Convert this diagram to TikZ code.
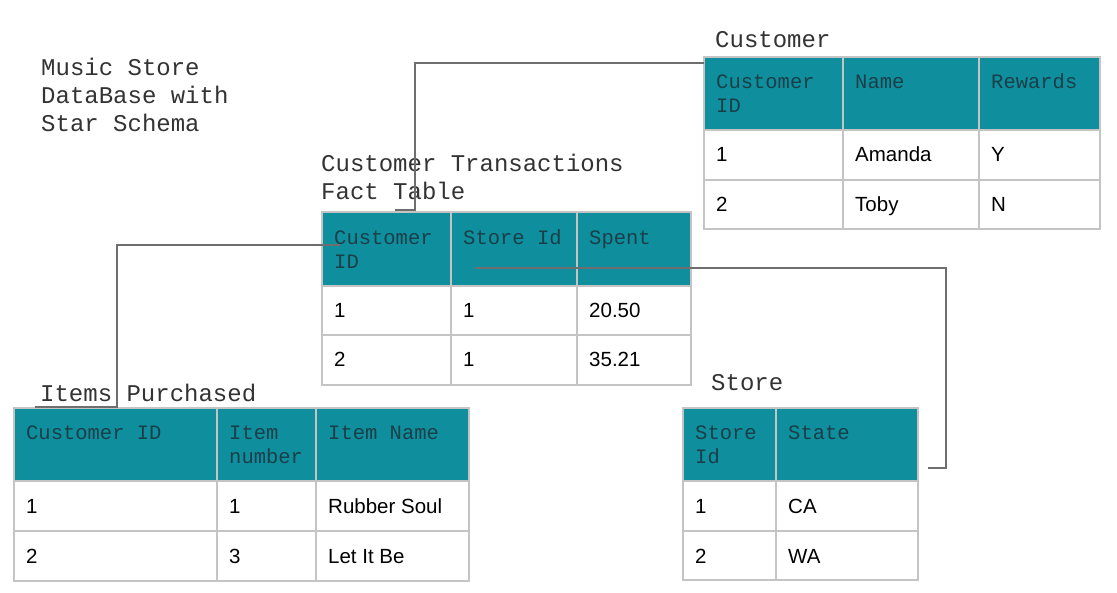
\documentclass[tikz,border=0pt]{standalone}
\usepackage{fontspec}
\setmainfont{Liberation Sans}
\setmonofont{Liberation Mono}
\usepackage{tikz}
\usetikzlibrary{positioning}
\usepackage{xcolor}
\definecolor{headfill}{HTML}{0F8E9E}
\definecolor{headtext}{HTML}{1A3F48}
\definecolor{gridgray}{HTML}{C4C4C4}
\definecolor{linkgray}{HTML}{6E6E6E}
\definecolor{titlegray}{HTML}{333333}

\tikzset{
  head/.style={fill=headfill},
  grid/.style={draw=gridgray, line width=1.5pt},
  link/.style={draw=linkgray, line width=1.3pt},
  hd/.style={anchor=base west, inner sep=0pt, text=headtext, font=\ttfamily\fontsize{20.5}{24}\selectfont},
  cell/.style={anchor=base west, inner sep=0pt, text=black, font=\fontsize{20.5}{24}\selectfont},
  ttl/.style={anchor=base west, inner sep=0pt, text=titlegray, font=\ttfamily\fontsize{24}{28}\selectfont}
}

\begin{document}
\begin{tikzpicture}[x=1pt, y=-1pt]
\useasboundingbox[fill=white] (0,0) rectangle (1117,593);

% titles
\node[ttl] (t-music) at (41,76) {Music Store};
\node[ttl] (t-db) at (41,104) {DataBase with};
\node[ttl] (t-star) at (41,132) {Star Schema};
\node[ttl] (t-cust) at (715,48) {Customer};
\node[ttl] (t-fact) at (321,172) {Customer Transactions};
\node[ttl] (t-fact2) at (321,200) {Fact Table};
\node[ttl] (t-items) at (40,402) {Items Purchased};
\node[ttl] (t-store) at (711,391) {Store};

% customer table
\fill[head] (704,57) rectangle (1100,130);
\draw[grid] (704,57) rectangle (1100,229);
\draw[grid] (704,130) -- (1100,130) (704,180) -- (1100,180);
\draw[grid] (843,57) -- (843,229) (979,57) -- (979,229);
\node[hd] (c-id) at (716,89) {Customer};
\node[hd] (c-id2) at (716,113) {ID};
\node[hd] (c-name) at (855,89) {Name};
\node[hd] (c-rew) at (991,89) {Rewards};
\node[cell] (c-11) at (716,162) {1};
\node[cell] (c-12) at (855,162) {Amanda};
\node[cell] (c-13) at (991,162) {Y};
\node[cell] (c-21) at (716,212) {2};
\node[cell] (c-22) at (855,212) {Toby};
\node[cell] (c-23) at (991,212) {N};

% fact table
\fill[head] (322,212) rectangle (691,286);
\draw[grid] (322,212) rectangle (691,385);
\draw[grid] (322,286) -- (691,286) (322,335) -- (691,335);
\draw[grid] (451,212) -- (451,385) (577,212) -- (577,385);
\node[hd] (f-id) at (334,245) {Customer};
\node[hd] (f-id2) at (334,269) {ID};
\node[hd] (f-store) at (463,245) {Store Id};
\node[hd] (f-spent) at (589,245) {Spent};
\node[cell] (f-11) at (334,318) {1};
\node[cell] (f-12) at (463,318) {1};
\node[cell] (f-13) at (589,318) {20.50};
\node[cell] (f-21) at (334,367) {2};
\node[cell] (f-22) at (463,367) {1};
\node[cell] (f-23) at (589,367) {35.21};

% items table
\fill[head] (14,408) rectangle (469,481);
\draw[grid] (14,408) rectangle (469,581);
\draw[grid] (14,481) -- (469,481) (14,531) -- (469,531);
\draw[grid] (217,408) -- (217,581) (316,408) -- (316,581);
\node[hd] (i-id) at (26,440) {Customer ID};
\node[hd] (i-num) at (229,440) {Item};
\node[hd] (i-num2) at (229,464) {number};
\node[hd] (i-name) at (328,440) {Item Name};
\node[cell] (i-11) at (26,513) {1};
\node[cell] (i-12) at (229,513) {1};
\node[cell] (i-13) at (328,513) {Rubber Soul};
\node[cell] (i-21) at (26,563) {2};
\node[cell] (i-22) at (229,563) {3};
\node[cell] (i-23) at (328,563) {Let It Be};

% store table
\fill[head] (683,408) rectangle (918,481);
\draw[grid] (683,408) rectangle (918,580);
\draw[grid] (683,481) -- (918,481) (683,531) -- (918,531);
\draw[grid] (776,408) -- (776,580);
\node[hd] (s-id) at (695,440) {Store};
\node[hd] (s-id2) at (695,464) {Id};
\node[hd] (s-state) at (788,440) {State};
\node[cell] (s-11) at (695,513) {1};
\node[cell] (s-12) at (788,513) {CA};
\node[cell] (s-21) at (695,563) {2};
\node[cell] (s-22) at (788,563) {WA};

% links
\coordinate (cust-end) at (704,63);
\coordinate (cust-bend) at (415,210);
\coordinate (fact-top) at (395,210);
\draw[link] (cust-end) -| (cust-bend) -- (fact-top);
\coordinate (fact-cid) at (340,245);
\coordinate (items-bend) at (117,407);
\coordinate (items-top) at (35,407);
\draw[link] (fact-cid) -| (items-bend) -- (items-top);
\coordinate (fact-sid) at (475,268);
\coordinate (store-bend) at (946,468);
\coordinate (store-end) at (928,468);
\draw[link] (fact-sid) -| (store-bend) -- (store-end);
\end{tikzpicture}
\end{document}
